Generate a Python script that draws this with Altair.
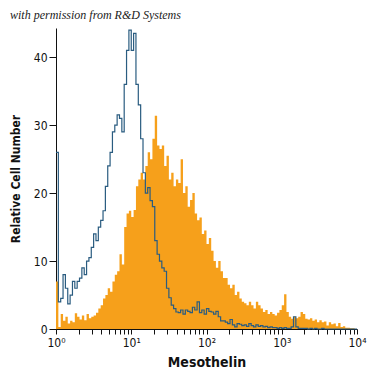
import altair as alt
import pandas as pd

# 128 bins, 1/32 decade each, from 10^0 to 10^4
orange = [7, 0.3, 2.2, 1.2, 1.8, 0.8, 1.2, 1.0, 2.3, 1.8,
          1.4, 2.0, 1.3, 2.2, 1.6, 1.8, 2.0, 2.4, 3.0, 3.5,
          4.5, 5.0, 6.0, 5.5, 7.0, 8.0, 8.5, 11, 9.5, 15,
          17, 17.4, 16.5, 17.5, 21, 22, 23, 22, 24, 26,
          25, 28, 31.4, 27, 26.5, 27, 24, 25.5, 22, 23,
          21, 22, 21.5, 25, 20, 21, 18, 19, 20, 17,
          16, 16.4, 14, 14.5, 12.5, 13.4, 11.5, 10, 9, 10,
          8.5, 7.5, 7.5, 6.5, 6, 6.5, 5, 5.5, 4.5, 4,
          3.8, 3.5, 4, 3.5, 3, 4, 3.5, 3, 2.5, 2.8,
          2.2, 2.5, 2.2, 2.0, 2.4, 2.8, 3.5, 5.1, 2.5, 1.8,
          1.5, 1.8, 1.6, 1.8, 2.5, 2.2, 1.5, 1.4, 1.6, 1.2,
          1.4, 1.0, 1.3, 1.0, 1.1, 0.5, 1.0, 0.7, 0.8, 0.4,
          0.9, 0.3, 0.4, 0.2, 0.2, 0.1, 0.1, 0]

blue = [26, 4, 4.5, 8, 6, 3.7, 5, 7, 6, 7,
        7.5, 9, 8, 10, 10.5, 12, 14, 13, 15, 16,
        17.4, 21, 24, 26, 29, 30, 31.5, 31, 29, 36,
        41, 44, 41, 43.5, 36, 33, 28, 23, 20, 20.8,
        18.9, 18, 13, 11, 10, 9, 8.5, 6, 4.6, 3.5,
        3, 2.5, 2.4, 2.8, 2.2, 2.8, 2.6, 2.4, 3.2, 2.8,
        4, 2.4, 2.8, 2.2, 3.0, 2.6, 2.5, 2.2, 2.6, 1.8,
        1.2, 1.2, 1.0, 0.8, 1.4, 0.6, 0.3, 0.8, 0.7, 0.5,
        0.6, 0.4, 0.8, 0.5, 0.3, 0.6, 0.4, 0.5, 0.3, 0.4,
        0.2, 0.3, 0.2, 0.2, 0.1, 0.2, 0.1, 0.2, 0.1, 0.1,
        0.3, 1.8, 0.3, 0.1, 0.1, 0.1, 0.1, 0, 0.1, 0,
        0.1, 0, 0, 0.1, 0, 0, 0, 0, 0, 0,
        0, 0, 0, 0, 0, 0, 0, 0]

bins_per_decade = 32
tick_values = [m * 10 ** k for k in range(4) for m in range(1, 10)] + [10000]
y_ticks = [0, 10, 20, 30, 40]

n = len(orange)
edges = [10 ** (i / bins_per_decade) for i in range(n + 1)]
df = pd.DataFrame({
    "x": edges,
    "orange": orange + [orange[-1]],
    "blue": blue + [blue[-1]],
})

font = "'DejaVu Sans Condensed', 'Liberation Sans Narrow', 'Open Sans', sans-serif"
xscale = alt.Scale(type="log", domain=[1, 10000], nice=False)
yscale = alt.Scale(domain=[0, 44.3], nice=False)

label_expr = ("datum.value == 1 ? '10⁰' : datum.value == 10 ? '10¹' : "
              "datum.value == 100 ? '10²' : datum.value == 1000 ? '10³' : "
              "datum.value == 10000 ? '10⁴' : ''")

xaxis = alt.Axis(values=tick_values, labelExpr=label_expr, title="Mesothelin",
                 grid=False, domainColor="#111", tickColor="#111", tickSize=5,
                 labelFont=font, labelFontSize=12, labelColor="#111",
                 labelFlush=False, labelOverlap=False, labelPadding=3,
                 titleFont=font, titleFontSize=14, titleFontWeight="bold",
                 titleColor="#111", titlePadding=7)
yaxis = alt.Axis(values=y_ticks, title="Relative Cell Number", grid=False,
                 domainColor="#111", tickColor="#111", tickSize=7,
                 labelFont=font, labelFontSize=12, labelColor="#111",
                 labelPadding=2,
                 titleFont=font, titleFontSize=12, titleFontWeight="bold",
                 titleColor="#111", titlePadding=11)

area = alt.Chart(df).mark_area(interpolate="step-after", color="#F6A01B",
                               opacity=1).encode(
    x=alt.X("x:Q", scale=xscale, axis=xaxis),
    y=alt.Y("orange:Q", scale=yscale, axis=yaxis),
)
line = alt.Chart(df).mark_line(interpolate="step-after", color="#2A5C80",
                               strokeWidth=1.2).encode(
    x=alt.X("x:Q", scale=xscale),
    y=alt.Y("blue:Q", scale=yscale),
)

chart = (area + line).properties(
    width=301, height=301,
    autosize=alt.AutoSizeParams(type="none"),
    padding={"left": 48, "top": 20, "right": 10, "bottom": 46},
    title=alt.TitleParams("with permission from R&D Systems", anchor="start",
                          frame="group", dx=-46, offset=6,
                          font="Liberation Serif", fontStyle="italic",
                          fontWeight="normal", fontSize=12, color="#222"),
).configure_view(stroke=None)

chart.save("out.html", embed_options={"renderer": "svg", "actions": False})
